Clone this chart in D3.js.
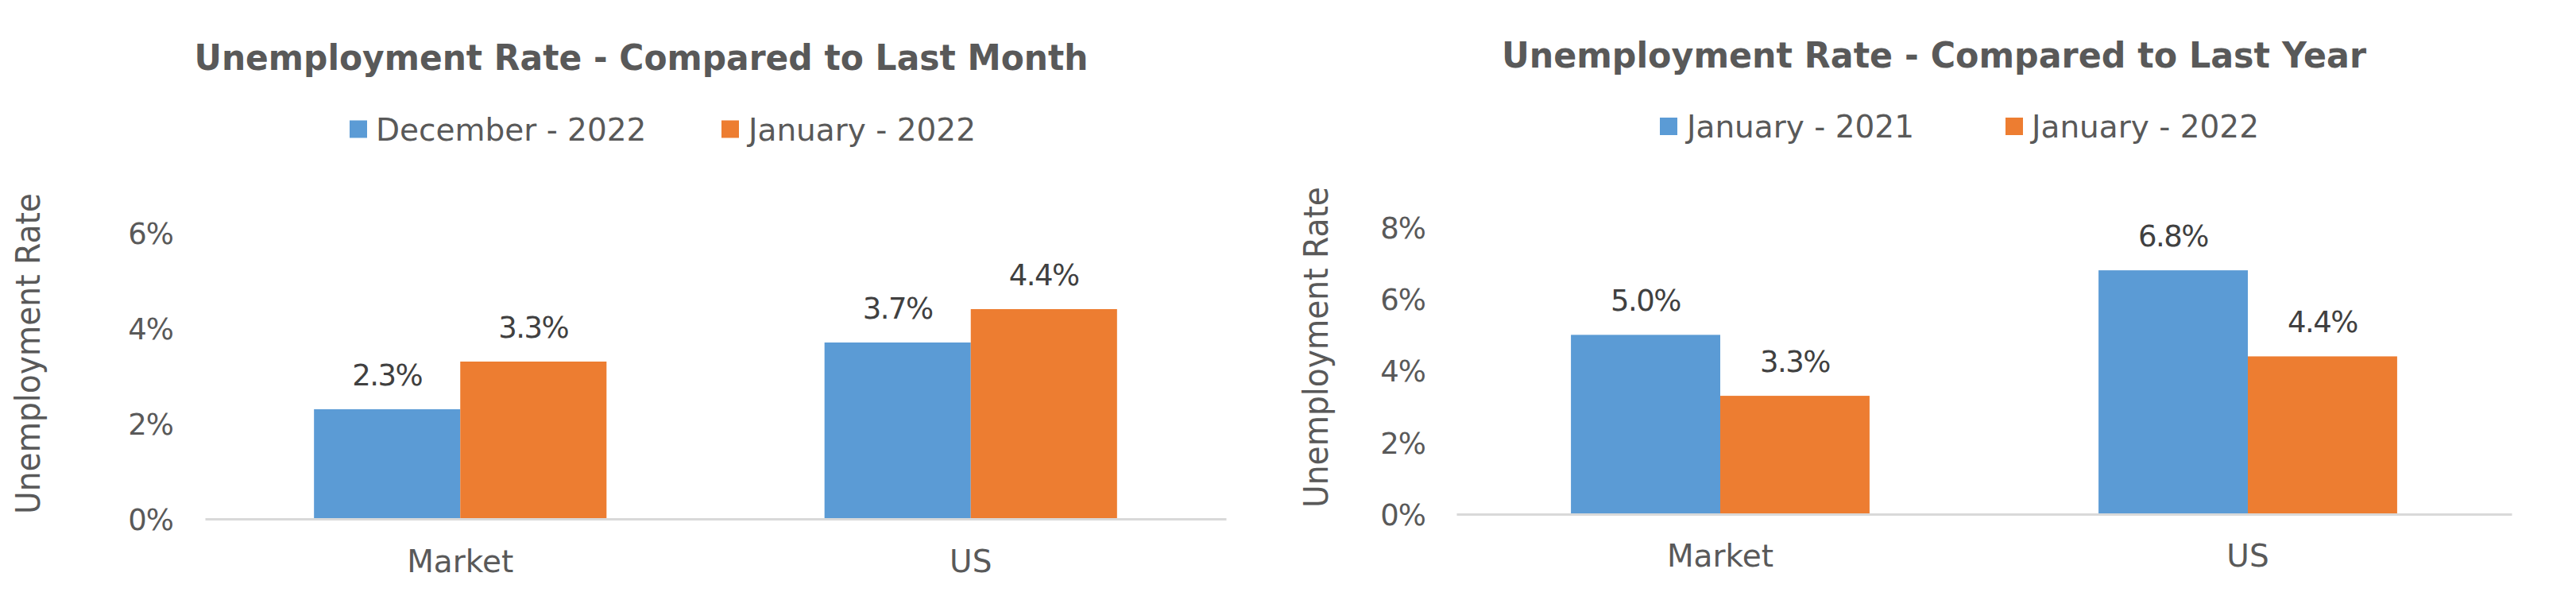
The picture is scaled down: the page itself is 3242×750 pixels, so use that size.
<!DOCTYPE html>
<html>
<head>
<meta charset="utf-8">
<script src="https://cdn.jsdelivr.net/npm/d3@7"></script>
<style>
  html, body { margin: 0; padding: 0; background: #ffffff; }
  svg { display: block; }
  text { font-family: "DejaVu Sans", sans-serif; }
</style>
</head>
<body>
<svg id="chart" width="3242" height="750"></svg>
<script>
// ---------------- data ----------------
const categories = ["Market", "US"];

const monthTitle = "Unemployment Rate - Compared to Last Month";
const monthSeriesNames = ["December - 2022", "January - 2022"];
const monthDecember2022 = [2.3, 3.7];
const monthJanuary2022 = [3.3, 4.4];
const monthTicks = [0, 2, 4, 6];

const yearTitle = "Unemployment Rate - Compared to Last Year";
const yearSeriesNames = ["January - 2021", "January - 2022"];
const yearJanuary2021 = [5.0, 6.8];
const yearJanuary2022 = [3.3, 4.4];
const yearTicks = [0, 2, 4, 6, 8];

const yAxisTitle = "Unemployment Rate";
const seriesColors = ["#5B9BD5", "#ED7D31"];

// ---------------- layout ----------------
const charts = [
  {
    title: monthTitle, names: monthSeriesNames, series: [monthDecember2022, monthJanuary2022], ticks: monthTicks,
    x0: 258, x1: 1543, yBase: 653, yTop: 293, pad: 0.427,
    titleX: 807, titleY: 88, titleW: 1125,
    legendY: 162.5, legendSq: [440, 908], legendTx: [473, 942],
    axisTitleX: 35, axisTitleY: 445, tickPad: 40, catDy: 67
  },
  {
    title: yearTitle, names: yearSeriesNames, series: [yearJanuary2021, yearJanuary2022], ticks: yearTicks,
    x0: 1833, x1: 3161, yBase: 647, yTop: 286, pad: 0.434,
    titleX: 2434, titleY: 85, titleW: 1088,
    legendY: 159, legendSq: [2089, 2524], legendTx: [2123, 2557],
    axisTitleX: 1656, axisTitleY: 437, tickPad: 39, catDy: 66
  }
];

const svg = d3.select("#chart");

charts.forEach(c => {
  const g = svg.append("g");
  const yMax = c.ticks[c.ticks.length - 1];
  const y = d3.scaleLinear().domain([0, yMax]).range([c.yBase, c.yTop]);
  const x = d3.scaleBand().domain(categories).range([c.x0, c.x1])
    .paddingInner(c.pad).paddingOuter(c.pad / 2);
  const xs = d3.scaleBand().domain([0, 1]).range([0, x.bandwidth()]);

  // title
  g.append("text")
    .attr("x", c.titleX).attr("y", c.titleY)
    .attr("text-anchor", "middle")
    .attr("font-size", 45).attr("font-weight", "bold")
    .attr("fill", "#595959")
    .attr("textLength", c.titleW).attr("lengthAdjust", "spacingAndGlyphs")
    .text(c.title);

  // legend
  c.names.forEach((n, i) => {
    g.append("rect")
      .attr("x", c.legendSq[i]).attr("y", c.legendY - 11)
      .attr("width", 22).attr("height", 22)
      .attr("fill", seriesColors[i]);
    g.append("text")
      .attr("x", c.legendTx[i]).attr("y", c.legendY)
      .attr("dy", "0.36em")
      .attr("font-size", 39).attr("fill", "#595959")
      .text(n);
  });

  // y axis title
  g.append("text")
    .attr("transform", `translate(${c.axisTitleX},${c.axisTitleY}) rotate(-90)`)
    .attr("text-anchor", "middle").attr("dy", "0.36em")
    .attr("font-size", 42).attr("fill", "#595959")
    .attr("textLength", 404).attr("lengthAdjust", "spacingAndGlyphs")
    .text(yAxisTitle);

  // y axis (labels only)
  const yAxis = d3.axisLeft(y).tickValues(c.ticks).tickSize(0).tickPadding(c.tickPad)
    .tickFormat(d => d + "%");
  const yg = g.append("g").attr("transform", `translate(${c.x0},0)`).call(yAxis);
  yg.select(".domain").remove();
  yg.selectAll("text").attr("font-size", 37).attr("fill", "#595959")
    .attr("font-family", "DejaVu Sans").attr("dy", "0.36em").attr("letter-spacing", -1);

  // bars
  categories.forEach((cat, ci) => {
    c.series.forEach((vals, si) => {
      const v = vals[ci];
      const bx = x(cat) + xs(si);
      g.append("rect")
        .attr("x", bx).attr("y", y(v))
        .attr("width", xs.bandwidth()).attr("height", y(0) - y(v))
        .attr("fill", seriesColors[si]);
      g.append("text")
        .attr("x", bx + xs.bandwidth() / 2).attr("y", y(v) - 30)
        .attr("text-anchor", "middle")
        .attr("font-size", 37).attr("fill", "#404040")
        .attr("letter-spacing", -1.5)
        .text(v.toFixed(1) + "%");
    });
  });

  // x axis
  const xAxis = d3.axisBottom(x).tickSize(0).tickSizeOuter(0);
  const xg = g.append("g").attr("transform", `translate(0,${c.yBase})`).call(xAxis);
  xg.select(".domain").attr("stroke", "#D9D9D9").attr("stroke-width", 3);
  xg.selectAll("text").attr("font-size", 39).attr("fill", "#595959")
    .attr("font-family", "DejaVu Sans").attr("y", c.catDy).attr("dy", 0);
});
</script>
</body>
</html>
